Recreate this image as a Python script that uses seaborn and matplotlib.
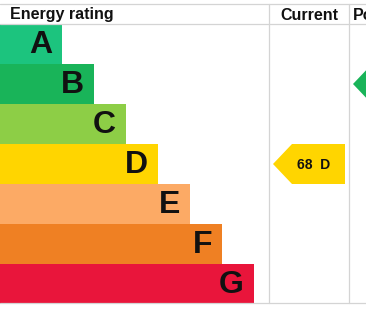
import matplotlib
matplotlib.use("Agg")
import matplotlib.pyplot as plt
import seaborn as sns
from matplotlib.patches import Polygon

# ---- data ----
bands = ["A", "B", "C", "D", "E", "F", "G"]
bar_lengths = [62, 94, 126, 158, 190, 222, 254]
band_colors = ["#1cc47e", "#19b459", "#8dce46", "#ffd500", "#fcaa65", "#ef8023", "#e9153b"]
current_value = 68
current_band = "D"
potential_band = "B"
headers = ["Energy rating", "Current", "Potential"]

sns.set_theme(style="white")
plt.rcParams["font.family"] = ["Liberation Sans", "DejaVu Sans"]

W, H = 366, 311
fig = plt.figure(figsize=(W / 100, H / 100), dpi=100)
ax = fig.add_axes([0, 0, 1, 1])

sns.barplot(x=bar_lengths, y=bands, hue=bands, palette=band_colors, legend=False,
            orient="h", width=1.0, linewidth=0, saturation=1, ax=ax)

# pixel layout: row i spans 24+40i .. 64+40i
ROW0, ROWH = 24, 40
def py(p):
    return (p - ROW0 - ROWH / 2) / ROWH

ax.set_xlim(0, W)
ax.set_ylim(py(H), py(0))
ax.axis("off")

# band letters
for i, (b, L) in enumerate(zip(bands, bar_lengths)):
    ax.text(L - 10, i + 0.03, b, ha="right", va="center", fontsize=23,
            fontweight="bold", color="#111111")

# grid lines
gc = "#d4d4d4"
ax.plot([0, W], [py(4), py(4)], color=gc, lw=0.9)
ax.plot([0, W], [py(24), py(24)], color=gc, lw=0.9)
ax.plot([0, W], [py(303), py(303)], color=gc, lw=0.9)
for x in (269, 349):
    ax.plot([x, x], [py(4), py(303)], color=gc, lw=0.9)

# headers
hy = py(15)
ax.text(10, hy, headers[0], ha="left", va="center", fontsize=11.5, fontweight="bold",
        color="#111111")
ax.text(309, hy, headers[1], ha="center", va="center", fontsize=11.5, fontweight="bold",
        color="#111111")
ax.text(353, hy, headers[2], ha="left", va="center", fontsize=11.5, fontweight="bold",
        color="#111111", clip_on=True)

def arrow(col_left, col_right, band, color, label=None):
    i = bands.index(band)
    top, bot = i - 0.5, i + 0.5
    tip = 19
    pts = [(col_left, i), (col_left + tip, top), (col_right, top),
           (col_right, bot), (col_left + tip, bot)]
    ax.add_patch(Polygon(pts, closed=True, facecolor=color, edgecolor="none"))
    if label:
        ax.text((col_left + tip + col_right) / 2 - 5, i + 0.03, label, ha="center",
                va="center", fontsize=10, fontweight="bold", color="#111111")

arrow(273, 345, current_band, band_colors[bands.index(current_band)],
      f"{current_value}  {current_band}")
arrow(353, 425, potential_band, band_colors[bands.index(potential_band)])

fig.savefig("out.png", dpi=100)
